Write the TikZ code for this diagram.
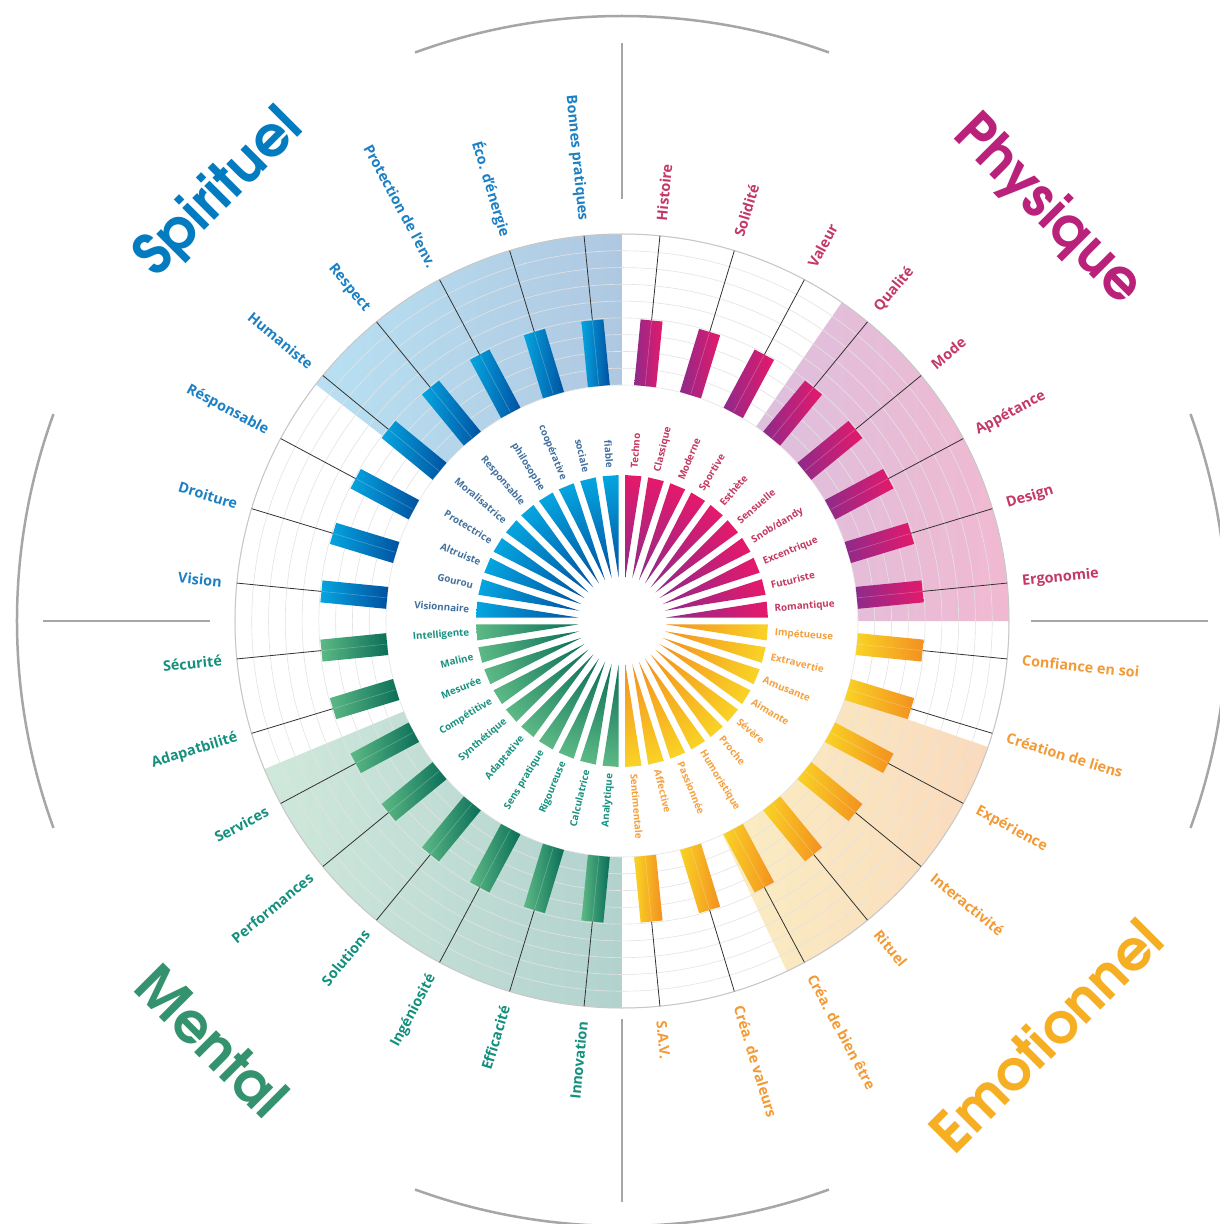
\documentclass[tikz,border=0pt]{standalone}
\usepackage{fontspec}
\setmainfont{Open Sans}
\newfontfamily\titlefont{texgyreadventor-bold.otf}
\definecolor{phA}{HTML}{8E2A8A}
\definecolor{phB}{HTML}{E5196B}
\definecolor{emA}{HTML}{F9D325}
\definecolor{emB}{HTML}{F39020}
\definecolor{meA}{HTML}{5DB985}
\definecolor{meB}{HTML}{0A6E58}
\definecolor{spA}{HTML}{05A5E0}
\definecolor{spB}{HTML}{0151A0}
\definecolor{phT}{HTML}{C43866}
\definecolor{emT}{HTML}{F39A35}
\definecolor{meT}{HTML}{14907E}
\definecolor{spT}{HTML}{1C80C4}
\definecolor{phTi}{HTML}{C4385F}
\definecolor{emTi}{HTML}{F5A03C}
\definecolor{meTi}{HTML}{16917F}
\definecolor{spTi}{HTML}{41709E}
\definecolor{bPhL}{HTML}{DDC0DE}
\definecolor{bPhR}{HTML}{F1B9D1}
\definecolor{bEmL}{HTML}{FAEDC2}
\definecolor{bEmR}{HTML}{FADABD}
\definecolor{bMeL}{HTML}{CFE8DB}
\definecolor{bMeR}{HTML}{B2D2CE}
\definecolor{bSpL}{HTML}{B8E0F2}
\definecolor{bSpR}{HTML}{AFC8E1}
\pgfdeclareradialshading{phrad}{\pgfpoint{0bp}{0bp}}{color(0bp)=(phA); color(7.5bp)=(phA); color(25bp)=(phB); color(50bp)=(phB)}
\pgfdeclareradialshading{emrad}{\pgfpoint{0bp}{0bp}}{color(0bp)=(emB); color(7.5bp)=(emB); color(25bp)=(emA); color(50bp)=(emA)}
\pgfdeclareradialshading{merad}{\pgfpoint{0bp}{0bp}}{color(0bp)=(meB); color(7.5bp)=(meB); color(25bp)=(meA); color(50bp)=(meA)}
\pgfdeclareradialshading{sprad}{\pgfpoint{0bp}{0bp}}{color(0bp)=(spB); color(7.5bp)=(spB); color(25bp)=(spA); color(50bp)=(spA)}
\begin{document}
\begin{tikzpicture}[x=1pt,y=1pt,
  olab/.style={font=\bfseries\fontsize{14.4}{15}\selectfont, inner sep=0pt},
  ilab/.style={font=\bfseries\fontsize{9.8}{11}\selectfont, inner sep=0pt},
  spoke/.style={draw=black!80, line width=0.8pt},
  gridline/.style={draw=black!11, line width=0.6pt},
  divider/.style={draw=black!35, line width=2pt},
  bigarc/.style={draw=black!35, line width=2.5pt},
  ttl/.style={font=\titlefont\fontsize{56}{56}\selectfont, inner sep=0pt}]
\useasboundingbox (-622,-603) rectangle (598,621);
\fill[white] (-622,-603) rectangle (598,621);
% highlighted bands
\shade[left color=bPhL, right color=bPhR] (0:236) -- (0:387) arc[start angle=0,end angle=55.4,radius=387] -- (55.4:236) arc[start angle=55.4,end angle=0,radius=236] -- cycle;
\shade[left color=bEmL, right color=bEmR] (-64.8:236) -- (-64.8:387) arc[start angle=-64.8,end angle=-19,radius=387] -- (-19:236) arc[start angle=-19,end angle=-64.8,radius=236] -- cycle;
\shade[left color=bMeL, right color=bMeR] (202.5:236) -- (202.5:387) arc[start angle=202.5,end angle=270,radius=387] -- (270:236) arc[start angle=270,end angle=202.5,radius=236] -- cycle;
\shade[left color=bSpL, right color=bSpR] (90:236) -- (90:387) arc[start angle=90,end angle=142.3,radius=387] -- (142.3:236) arc[start angle=142.3,end angle=90,radius=236] -- cycle;
% grid
\foreach \k in {0,...,9} \draw[gridline] (0,0) circle ({236+16.78*\k});
\draw[black!22, line width=1pt] (0,0) circle (387);
% spokes, bars, outer labels
\foreach \lab [count=\i from 0] in {Histoire, Solidité, Valeur, Qualité, Mode, Appétance, Design, Ergonomie, Confiance en soi, Création de liens, Expérience, Interactivité, Rituel, Créa. de bien être, Créa. de valeurs, S.A.V., Innovation, Efficacité, Ingéniosité, Solutions, Performances, Services, Adapatbilité, Sécurité, Vision, Droiture, Résponsable, Humaniste, Respect, Protection de l'env., Éco. d'énergie, Bonnes pratiques} {
  \pgfmathsetmacro{\t}{84.375-11.25*\i}
  \pgfmathtruncatemacro{\q}{\i/8}
  \ifcase\q \def\ca{phA}\def\cb{phB}\def\col{phT}\or \def\ca{emA}\def\cb{emB}\def\col{emT}\or \def\ca{meA}\def\cb{meB}\def\col{meT}\or \def\ca{spA}\def\cb{spB}\def\col{spT}\fi
  \draw[spoke] (\t:302) -- (\t:387);
  \shade[left color=\ca, right color=\cb] ({\t+2.669}:236.26) -- ({\t+2.086}:302.2) -- ({\t-2.086}:302.2) -- ({\t-2.669}:236.26) -- cycle;
  \draw[white, opacity=0.25, line width=0.6pt] (\t:237) -- (\t:301);
  \ifnum\i<16
    \node[olab, text=\col, anchor=west, rotate=\t] (ol\i) at (\t:402) {\lab};
  \else
    \pgfmathsetmacro{\tr}{\t-180}
    \node[olab, text=\col, anchor=east, rotate=\tr] (ol\i) at (\t:402) {\lab};
  \fi
}
% inner wedges
\foreach \q/\sh in {0/phrad,1/emrad,2/merad,3/sprad} {
  \begin{scope}
    \clip \foreach \j in {0,...,9} { ({85.5-9*(10*\q+\j)+3.15}:146) -- ({85.5-9*(10*\q+\j)}:44) -- ({85.5-9*(10*\q+\j)-3.15}:146) -- cycle };
    \shade[shading=\sh] (0,0) circle (146);
  \end{scope}
}
% inner labels
\foreach \lab [count=\k from 0] in {Techno, Classique, Moderne, Sportive, Esthète, Sensuelle, Snob/dandy, Excentrique, Futuriste, Romantique, Impétueuse, Extravertie, Amusante, Aimante, Sévère, Proche, Humoristique, Passionnée, Affective, Sentimentale, Analytique, Calculatrice, Rigoureuse, Sens pratique, Adaptative, Synthétique, Compétitive, Mesurée, Maline, Intelligente, Visionnaire, Gourou, Altruiste, Protectrice, Moralisatrice, Responsable, philosophe, coopérative, sociale, fiable} {
  \pgfmathsetmacro{\t}{85.5-9*\k}
  \pgfmathtruncatemacro{\q}{\k/10}
  \ifcase\q \def\col{phTi}\or \def\col{emTi}\or \def\col{meTi}\or \def\col{spTi}\fi
  \ifnum\k<20
    \node[ilab, text=\col, anchor=west, rotate=\t] (il\k) at (\t:153) {\lab};
  \else
    \pgfmathsetmacro{\tr}{\t-180}
    \node[ilab, text=\col, anchor=east, rotate=\tr] (il\k) at (\t:153) {\lab};
  \fi
}
% titles
\node[ttl, text=phA!50!phB, rotate=-45] (tphys) at (426,411) {Physique};
\node[ttl, text=spA!50!spB, rotate=45] (tspir) at (-403,428) {Spirituel};
\node[ttl, text=meA!50!meB, rotate=-45] (tment) at (-410,-420) {Mental};
\node[ttl, text=emA!45!emB, rotate=45] (temo) at (424,-414) {Emotionnel};
% dividers and outer arcs
\draw[divider] (90:422) -- (90:578);
\draw[divider] (270:398) -- (270:581);
\draw[divider] (180:412) -- (180:579);
\draw[divider] (0:409) -- (0:586);
\draw[bigarc] (70:605) arc[start angle=70,end angle=110,radius=605];
\draw[bigarc] (160:605) arc[start angle=160,end angle=200,radius=605];
\draw[bigarc] (250:605) arc[start angle=250,end angle=290,radius=605];
\draw[bigarc] (-20:605) arc[start angle=-20,end angle=20,radius=605];
\end{tikzpicture}
\end{document}
